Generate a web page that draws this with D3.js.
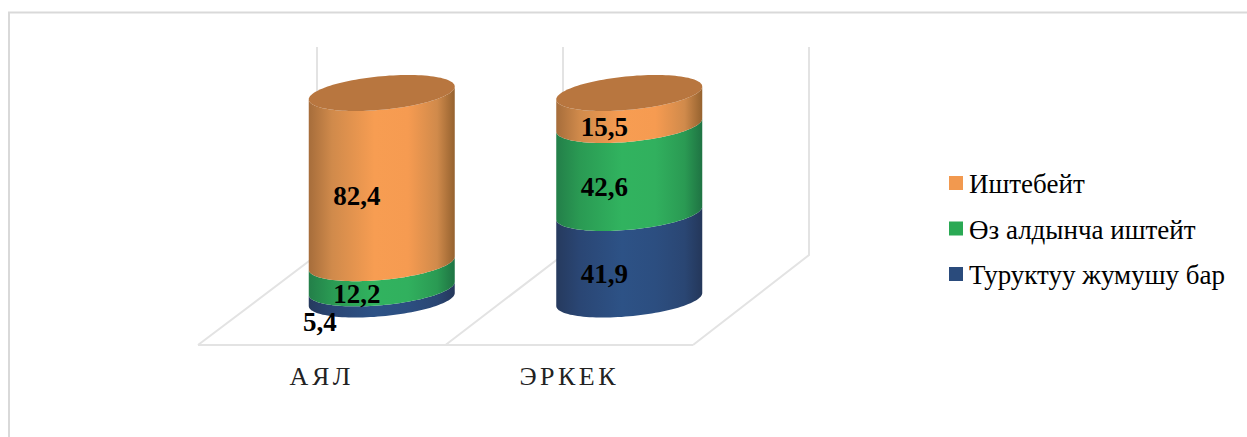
<!DOCTYPE html>
<html>
<head>
<meta charset="utf-8">
<script src="https://cdn.jsdelivr.net/npm/d3@7"></script>
<style>
  html, body { margin: 0; padding: 0; background: #fff; }
  svg { display: block; }
  text { font-family: "Liberation Serif", serif; fill: #000; }
</style>
</head>
<body>
<svg id="chart" width="1247" height="437"></svg>
<script>
// Employment status by gender, stacked to 100 percent
const categories = ["АЯЛ", "ЭРКЕК"];
const seriesNames = ["Туруктуу жумушу бар", "Өз алдынча иштейт", "Иштебейт"];
const permanentJob = [5.4, 41.9];
const selfEmployed = [12.2, 42.6];
const notWorking = [82.4, 15.5];
const legendOrder = ["Иштебейт", "Өз алдынча иштейт", "Туруктуу жумушу бар"];

const seriesValues = [permanentJob, selfEmployed, notWorking];
const formatValue = v => String(v).replace(".", ",");

const svg = d3.select("#chart");
const defs = svg.append("defs");

// Each series: legend fill, and the horizontal shading of the cylinder wall
const palette = [
  { legend: "#2a4b7c", stops: ["#263a5e", "#2a4674", "#2d5286", "#2c4e80", "#2a4673", "#24375a"] },
  { legend: "#2aa954", stops: ["#237f49", "#2a9a53", "#31b35f", "#31b05e", "#2a9a53", "#1f7343"] },
  { legend: "#f2994f", stops: ["#a66d3b", "#d08a4b", "#f79d52", "#f69b51", "#d08a4b", "#95622f"] }
];
const capFill = "#b8763f";
const stopOffsets = [0, 0.16, 0.45, 0.68, 0.88, 1];

palette.forEach((p, i) => {
  const g = defs.append("linearGradient").attr("id", "wall" + i)
    .attr("x1", 0).attr("x2", 1).attr("y1", 0).attr("y2", 0);
  p.stops.forEach((c, j) => g.append("stop").attr("offset", stopOffsets[j]).attr("stop-color", c));
});

// Scales: the band runs along the front floor edge, the cylinders stand further back
const x = d3.scaleBand().domain(categories).range([198, 693]);
const y = d3.scaleLinear().domain([0, 100]).range([299.5, 93]);
// Back edge of the floor, slightly narrower than the front edge
const xBack = d3.scaleLinear().domain(x.range()).range([317, 809]);

const depthX = 60;
const radiusX = 73;
const radiusY = 16.8;
const skew = -6.5;
const cx = c => x(c) + x.bandwidth() / 2 + depthX;

// Point on the tilted ellipse at angle t
const rimX = (c, t) => cx(c) + radiusX * Math.cos(t);
const rimY = (v, t) => y(v) + skew * Math.cos(t) + radiusY * Math.sin(t);

const line = d3.line();
const frontAngles = d3.range(0, 61).map(i => Math.PI * i / 60);

// Outer frame of the chart area, open on the right and bottom
svg.append("path")
  .attr("d", "M9,437V12.5H1247")
  .attr("fill", "none").attr("stroke", "#d9d9d9").attr("stroke-width", 2);

// Floor and back-wall grid
const floorY = 345, backFloorY = 255, wallTop = 47;
const grid = svg.append("g").attr("fill", "none").attr("stroke", "#e3e3e3").attr("stroke-width", 2);
grid.append("line").attr("x1", x.range()[0]).attr("x2", x.range()[1]).attr("y1", floorY).attr("y2", floorY);
[x(categories[0]), x(categories[1]), x.range()[1]].forEach(px => {
  grid.append("path").attr("d", line([[px, floorY], [xBack(px), backFloorY], [xBack(px), wallTop]]));
});

// Cylinders: stacked wall segments from the bottom up, then the cap
categories.forEach((c, ci) => {
  const group = svg.append("g");
  let base = 0;
  seriesValues.forEach((values, si) => {
    const top = base + values[ci];
    const upper = frontAngles.map(t => [rimX(c, t), rimY(top, t)]);
    const lower = frontAngles.map(t => [rimX(c, t), rimY(base, t)]).reverse();
    group.append("path")
      .attr("d", line(upper.concat(lower)) + "Z")
      .attr("fill", `url(#wall${si})`);
    base = top;
  });
  const ring = d3.range(0, 121).map(i => Math.PI * i / 60);
  group.append("path")
    .attr("d", line(ring.map(t => [rimX(c, t), rimY(100, t)])) + "Z")
    .attr("fill", capFill);
});

// Value labels sit on the front of each segment; thin slices drop below the cylinder
categories.forEach((c, ci) => {
  let base = 0;
  seriesValues.forEach(values => {
    const v = values[ci];
    const small = v < 10;
    svg.append("text")
      .attr("x", cx(c) - 25 - (small ? 37 : 0))
      .attr("y", y(base + v / 2) + 27 + (small ? 10 : 0))
      .attr("text-anchor", "middle")
      .attr("font-size", 27).attr("font-weight", "bold")
      .text(formatValue(v));
    base += v;
  });
});

// Category labels
svg.selectAll("text.cat").data(categories).join("text").attr("class", "cat")
  .attr("x", c => x(c) + x.bandwidth() / 2)
  .attr("y", 385)
  .attr("text-anchor", "middle")
  .attr("font-size", 26).attr("letter-spacing", 3.5)
  .style("fill", "#222")
  .text(c => c);

// Legend
const legend = svg.selectAll("g.legend").data(legendOrder).join("g").attr("class", "legend")
  .attr("transform", (d, i) => `translate(949,${176 + i * 45.5})`);
legend.append("rect").attr("width", 14).attr("height", 14)
  .attr("fill", d => palette[seriesNames.indexOf(d)].legend);
legend.append("text").attr("x", 20).attr("y", 17)
  .attr("font-size", 27)
  .text(d => d);
</script>
</body>
</html>
